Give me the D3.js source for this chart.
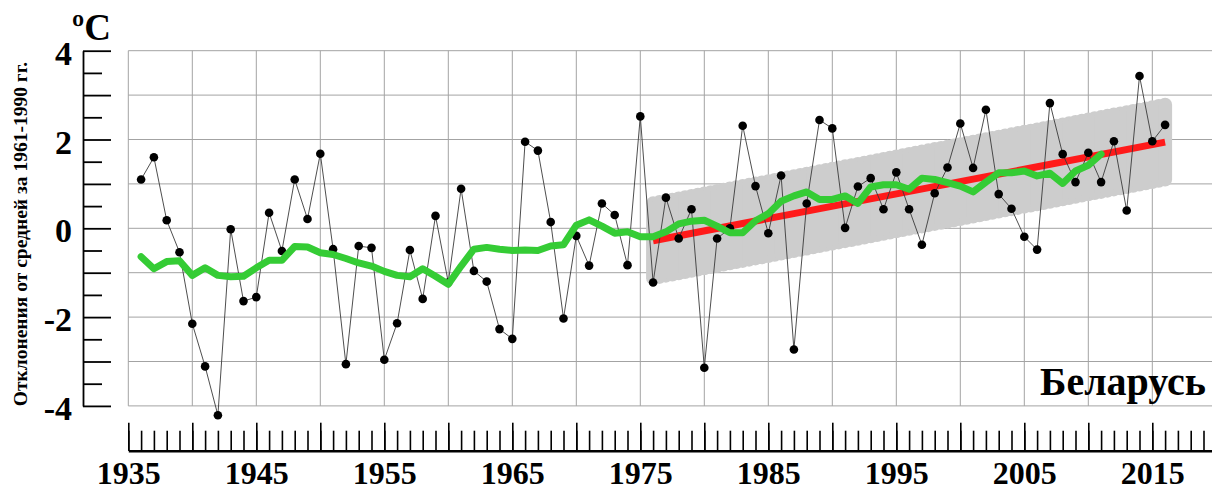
<!DOCTYPE html>
<html>
<head>
<meta charset="utf-8">
<script src="https://cdn.jsdelivr.net/npm/d3@7"></script>
<style>
  body { margin: 0; background: #fff; }
  svg { display: block; font-family: "Liberation Serif", "Times New Roman", serif; font-weight: bold; }
  svg text { font-family: "Liberation Serif", "Times New Roman", serif; font-weight: bold; }
</style>
</head>
<body>
<svg id="chart" width="1212" height="491"></svg>
<script>
// годы и аномалии температуры (от средней за 1961-1990)
var years = d3.range(1936, 2017);
var anomalies = [
   1.10,  1.60,  0.18, -0.54, -2.15, -3.11, -4.21, -0.02, -1.64, -1.55,
   0.35, -0.51,  1.10,  0.21,  1.68, -0.47, -3.06, -0.40, -0.44, -2.96,
  -2.14, -0.49, -1.59,  0.28, -1.22,  0.89, -0.96, -1.20, -2.27, -2.49,
   1.95,  1.75,  0.14, -2.03, -0.17, -0.84,  0.56,  0.30, -0.83,  2.52,
  -1.22,  0.69, -0.23,  0.43, -3.14, -0.23,  0.00,  2.31,  0.95, -0.11,
   1.19, -2.73,  0.56,  2.44,  2.25,  0.01,  0.94,  1.13,  0.43,  1.26,
   0.43, -0.37,  0.79,  1.37,  2.36,  1.36,  2.67,  0.77,  0.44, -0.19,
  -0.48,  2.82,  1.67,  1.04,  1.70,  1.04,  1.96,  0.40,  3.43,  1.96,
   2.33
];

// сглаженный ряд (зелёная линия)
var smoothYears = d3.range(1936, 2012);
var smoothValues = [
  -0.64, -0.91, -0.75, -0.73, -1.06, -0.89, -1.06, -1.09, -1.08, -0.89,
  -0.72, -0.72, -0.41, -0.42, -0.55, -0.59, -0.68, -0.78, -0.85, -0.97,
  -1.06, -1.09, -0.91, -1.08, -1.26, -0.85, -0.47, -0.43, -0.47, -0.50,
  -0.49, -0.50, -0.40, -0.37,  0.07,  0.19,  0.05, -0.11, -0.08, -0.19,
  -0.19, -0.08,  0.10,  0.16,  0.18,  0.05, -0.10, -0.10,  0.17,  0.33,
   0.61,  0.73,  0.82,  0.65,  0.65,  0.73,  0.56,  0.93,  0.98,  0.98,
   0.88,  1.13,  1.10,  1.03,  0.95,  0.82,  1.04,  1.25,  1.25,  1.29,
   1.18,  1.24,  1.01,  1.29,  1.42,  1.67
];

// линейный тренд 1976-2016 и полуширина серой полосы
var trendYears = [1976, 2016];
var trendValues = [-0.28, 1.94];
var bandHalf = 1.0;

// подписи осей
var xLabelYears = [1935, 1945, 1955, 1965, 1975, 1985, 1995, 2005, 2015];
var yLabelValues = [-4, -2, 0, 2, 4];
var yTitle = "Отклонения от средней за 1961-1990 гг.";
var unitLabel = "ºC";
var regionName = "Беларусь";

var serif = "'Liberation Serif', 'Times New Roman', serif";
var svg = d3.select("#chart");

var x = d3.scaleLinear().domain([1935, 2020]).range([128.3, 1216.3]);
var y = d3.scaleLinear().domain([-4, 4]).range([405.9, 50.7]);
var trend = d3.scaleLinear().domain(trendYears).range(trendValues);

// сетка
var grid = svg.append("g").attr("stroke", "#a3a3a3").attr("stroke-width", 1);
grid.selectAll(".h").data(d3.range(-4, 5)).enter().append("line")
    .attr("x1", x(1935)).attr("x2", x(2020))
    .attr("y1", function(d){ return y(d); })
    .attr("y2", function(d){ return y(d); });
grid.selectAll(".v").data(d3.range(1935, 2021, 5)).enter().append("line")
    .attr("x1", function(d){ return x(d); })
    .attr("x2", function(d){ return x(d); })
    .attr("y1", y(4)).attr("y2", y(-4));

// серая полоса вокруг тренда (из круглых штрихов)
var bandSteps = d3.range(trendYears[0], trendYears[1] + 0.01, 0.5);
var capR = 7;
svg.append("g").selectAll("line").data(bandSteps).enter().append("line")
    .attr("x1", function(d){ return x(d); })
    .attr("x2", function(d){ return x(d); })
    .attr("y1", function(d){ return y(trend(d) + bandHalf) + capR; })
    .attr("y2", function(d){ return y(trend(d) - bandHalf) - capR; })
    .attr("stroke", "#cdcdcd")
    .attr("stroke-width", capR * 2)
    .attr("stroke-linecap", "round");

// красная линия тренда
svg.append("path")
    .datum(trendYears)
    .attr("fill", "none")
    .attr("stroke", "#ff1a1a")
    .attr("stroke-width", 7)
    .attr("d", d3.line()
        .x(function(d){ return x(d); })
        .y(function(d){ return y(trend(d)); }));

// годовые значения
var pts = years.map(function(d, i){ return { year: d, value: anomalies[i] }; });
svg.append("path")
    .datum(pts)
    .attr("fill", "none")
    .attr("stroke", "#3a3a3a")
    .attr("stroke-width", 0.9)
    .attr("d", d3.line()
        .x(function(d){ return x(d.year); })
        .y(function(d){ return y(d.value); }));
svg.append("g").selectAll("circle").data(pts).enter().append("circle")
    .attr("cx", function(d){ return x(d.year); })
    .attr("cy", function(d){ return y(d.value); })
    .attr("r", 4.3)
    .attr("fill", "#000");

// зелёная сглаженная кривая
var smooth = smoothYears.map(function(d, i){ return { year: d, value: smoothValues[i] }; });
svg.append("path")
    .datum(smooth)
    .attr("fill", "none")
    .attr("stroke", "#35cc35")
    .attr("stroke-width", 7)
    .attr("stroke-linejoin", "round")
    .attr("stroke-linecap", "round")
    .attr("d", d3.line()
        .x(function(d){ return x(d.year); })
        .y(function(d){ return y(d.value); }));

// ось X: мелкие (год) и крупные (5 лет) засечки
var xAxisY = 450.7;
svg.append("g")
    .attr("transform", "translate(0," + xAxisY + ")")
    .call(d3.axisBottom(x).tickValues(d3.range(1935, 2020)).tickSize(-20).tickSizeOuter(0).tickFormat(""))
    .call(function(g){
        g.select(".domain").attr("stroke-width", 2.6);
        g.selectAll(".tick line").attr("stroke-width", 1.6);
    });
svg.append("g")
    .attr("transform", "translate(0," + xAxisY + ")")
    .call(d3.axisBottom(x).tickValues(d3.range(1935, 2020, 5)).tickSize(-28).tickSizeOuter(0).tickPadding(11)
        .tickFormat(function(d){ return xLabelYears.indexOf(d) >= 0 ? String(d) : ""; }))
    .call(function(g){
        g.attr("font-family", serif).attr("font-size", 32);
        g.select(".domain").remove();
        g.selectAll(".tick line").attr("stroke-width", 1.6);
        g.selectAll("text").attr("font-family", serif).attr("font-size", 32).attr("font-weight", "bold").attr("fill", "#000");
    });

// ось Y
var yAxisX = 83;
svg.append("g")
    .attr("transform", "translate(" + yAxisX + ",0)")
    .call(d3.axisLeft(y).tickValues(d3.range(-3.5, 4, 1)).tickSize(-19).tickSizeOuter(0).tickFormat(""))
    .call(function(g){
        g.select(".domain").attr("stroke-width", 1.8);
        g.selectAll(".tick line").attr("stroke-width", 1.8);
    });
svg.append("g")
    .attr("transform", "translate(" + yAxisX + ",0)")
    .call(d3.axisLeft(y).tickValues(d3.range(-4, 5, 1)).tickSize(-28).tickSizeOuter(0).tickPadding(11)
        .tickFormat(function(d){ return yLabelValues.indexOf(d) >= 0 ? String(d) : ""; }))
    .call(function(g){
        g.attr("font-family", serif).attr("font-size", 34);
        g.select(".domain").remove();
        g.selectAll(".tick line").attr("stroke-width", 1.8);
        g.selectAll("text").attr("font-family", serif).attr("font-size", 34).attr("font-weight", "bold").attr("fill", "#000").attr("dy", "0.4em");
    });

// подписи
svg.append("text")
    .attr("x", 72).attr("y", 40)
    .attr("font-size", 37)
    .text(unitLabel);

svg.append("text")
    .attr("transform", "translate(27,234) rotate(-90)")
    .attr("text-anchor", "middle")
    .attr("font-size", 19.5)
    .text(yTitle);

svg.append("text")
    .attr("x", 1206).attr("y", 395)
    .attr("text-anchor", "end")
    .attr("font-size", 40)
    .text(regionName);
</script>
</body>
</html>
